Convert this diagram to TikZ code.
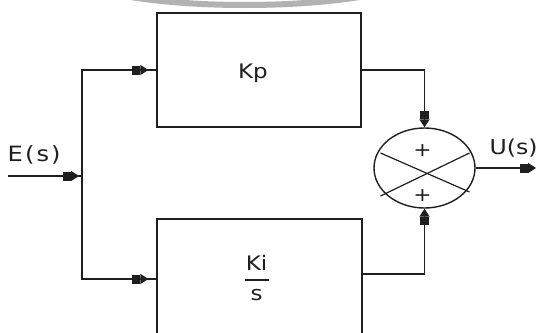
\documentclass[tikz,border=0pt]{standalone}
\usepackage{fontspec}
\setmainfont{DejaVu Sans}[FakeStretch=1.15]
\newfontfamily\widefont{DejaVu Sans}[FakeStretch=1.15, LetterSpace=10]
\usetikzlibrary{shapes.geometric,arrows.meta,decorations.markings}
\begin{document}
\begin{tikzpicture}[x=1pt,y=-1pt,
  line width=1.4pt, color={black!88},
  blockbox/.style={draw, rectangle, line width=1.4pt, inner sep=0pt},
  sumnode/.style={draw, ellipse, minimum width=101pt, minimum height=80pt, inner sep=0pt},
  tipend/.style={-{Square[length=8pt,width=9pt,sep=0pt]Triangle[length=8pt,width=10pt]}},
  midtip/.style={postaction={decorate}, decoration={markings, mark=at position #1 with {\arrow{Square[length=8pt,width=9pt,sep=0pt]Triangle[length=8pt,width=10pt]}}}},
  lbl/.style={font=\fontsize{20}{20}\selectfont, inner sep=0pt},
  wlbl/.style={font=\widefont\fontsize{21}{21}\selectfont, inner sep=0pt},
  ulbl/.style={font=\fontsize{20.5}{21}\selectfont, inner sep=0pt},
  sgn/.style={font=\fontsize{19}{19}\selectfont, inner sep=0pt}
]
\useasboundingbox (0,0) rectangle (538,332);
\clip (0,0) rectangle (538,332);
\fill[white] (0,0) rectangle (538,332);
% grey band at the top
\draw[gray!60, line width=6pt] (245,-30) ellipse [x radius=180, y radius=35];

% blocks
\node[blockbox, minimum width=204pt, minimum height=114pt,
      label={[lbl, yshift=-3pt, xshift=-6pt]center:Kp}] (kp) at (259,70) {};
\node[blockbox, minimum width=205pt, minimum height=120pt] (ki) at (259.5,279) {};
\node[lbl] (kitext) at ([yshift=-2pt,xshift=-3pt]ki.center) {\begin{tabular}{@{}c@{}}Ki\\[-10pt]\rule{24pt}{1.4pt}\\ s\end{tabular}};

% summing junction
\node[sumnode] (sum) at (424.5,168) {};
\draw[line width=1.2pt] ([shift={(-44,-15)}]sum.center) -- ([shift={(45,24)}]sum.center);
\draw[line width=1.2pt] ([shift={(-44,28)}]sum.center) -- ([shift={(45,-15)}]sum.center);
\node[sgn] (p1) at ([shift={(-2,-17)}]sum.center) {+};
\node[sgn] (p2) at ([shift={(-2,28)}]sum.center) {+};

% terminals
\coordinate (in) at (8,176);
\coordinate (j) at (82,176);
\coordinate (out) at (536,168);
\node[wlbl, anchor=west] (es) at (7,155) {E(s)};
\node[ulbl, anchor=west] (us) at (489,148) {U(s)};

% connectors
\draw[midtip=-3pt] (in) -- (j);
\draw[midtip=-8pt] (j) |- (kp.west);
\draw[midtip=-8pt] (j) |- (ki.west);
\draw[tipend] (kp.east) -| (sum.north);
\draw[tipend] ([yshift=5pt]ki.east) -| (sum.south);
\draw[tipend] (sum.east) -- (out);
\end{tikzpicture}
\end{document}
